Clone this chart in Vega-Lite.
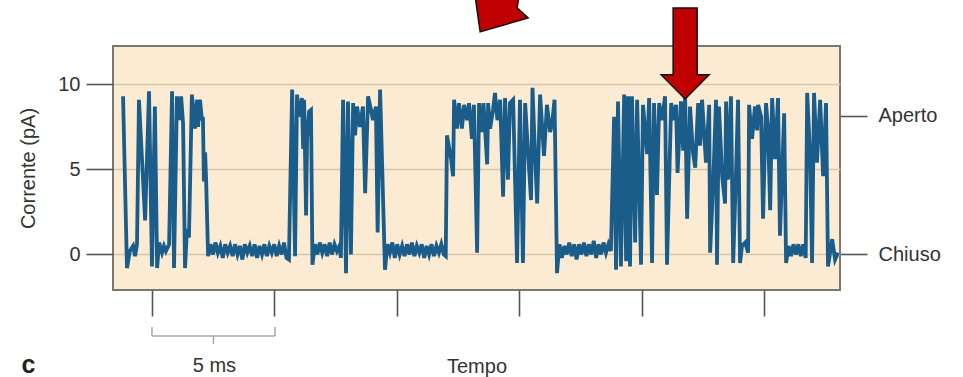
{
  "$schema": "https://vega.github.io/schema/vega-lite/v6.json",
  "autosize": "none",
  "width": 727,
  "height": 244,
  "padding": {"left": 113, "top": 46, "right": 123, "bottom": 87},
  "background": "white",
  "config": {
    "font": "Liberation Sans",
    "view": {"fill": "#FCEBD3", "stroke": "#7a7670", "strokeWidth": 2},
    "axis": {"labelFont": "Liberation Sans", "titleFont": "Liberation Sans", "labelColor": "#333", "titleColor": "#333", "tickColor": "#555", "tickWidth": 1.6, "labelFontSize": 20, "titleFontSize": 20, "titleFontWeight": "normal", "domain": false}
  },
  "datasets": {
    "trace": [
      {"t":0.41,"v":9.3},{"t":0.57,"v":-0.8},{"t":0.69,"v":0.2},{"t":0.82,"v":0.5},{"t":0.90,"v":-0.1},{"t":0.98,"v":0.6},
      {"t":1.06,"v":9.1},{"t":1.31,"v":2.0},{"t":1.47,"v":9.6},{"t":1.59,"v":-0.7},{"t":1.71,"v":8.7},{"t":1.80,"v":-0.8},
      {"t":1.88,"v":0.7},{"t":2.00,"v":0.1},{"t":2.08,"v":0.5},{"t":2.16,"v":0.2},{"t":2.29,"v":0.6},{"t":2.41,"v":9.6},
      {"t":2.49,"v":-0.8},{"t":2.61,"v":9.3},{"t":2.69,"v":7.9},{"t":2.78,"v":9.3},{"t":2.86,"v":7.7},{"t":2.94,"v":-0.8},
      {"t":3.02,"v":1.5},{"t":3.10,"v":1.0},{"t":3.22,"v":9.4},{"t":3.35,"v":7.4},{"t":3.43,"v":9.1},{"t":3.47,"v":7.5},
      {"t":3.55,"v":9.1},{"t":3.63,"v":7.9},{"t":3.67,"v":8.1},{"t":3.71,"v":4.3},{"t":3.76,"v":6.0},{"t":3.80,"v":4.4},
      {"t":3.88,"v":-0.1},{"t":3.98,"v":0.6},{"t":4.08,"v":0.0},{"t":4.18,"v":0.7},{"t":4.28,"v":0.1},{"t":4.38,"v":0.5},
      {"t":4.48,"v":-0.2},{"t":4.58,"v":0.6},{"t":4.68,"v":0.1},{"t":4.78,"v":0.5},{"t":4.88,"v":-0.1},{"t":4.98,"v":0.6},
      {"t":5.08,"v":0.0},{"t":5.18,"v":0.5},{"t":5.28,"v":-0.3},{"t":5.38,"v":0.6},{"t":5.48,"v":0.1},{"t":5.58,"v":0.5},
      {"t":5.68,"v":-0.1},{"t":5.78,"v":0.6},{"t":5.88,"v":-0.2},{"t":5.98,"v":0.5},{"t":6.08,"v":0.0},{"t":6.18,"v":0.6},
      {"t":6.28,"v":-0.1},{"t":6.38,"v":0.5},{"t":6.48,"v":0.1},{"t":6.58,"v":0.6},{"t":6.68,"v":-0.1},{"t":6.78,"v":0.5},
      {"t":6.88,"v":0.0},{"t":6.98,"v":0.7},{"t":7.08,"v":-0.2},{"t":7.18,"v":-0.3},
      {"t":7.31,"v":9.7},{"t":7.43,"v":-0.1},{"t":7.51,"v":9.4},{"t":7.59,"v":8.1},{"t":7.71,"v":9.2},{"t":7.76,"v":6.2},
      {"t":7.80,"v":9.1},{"t":7.88,"v":2.3},{"t":7.92,"v":6.8},{"t":8.00,"v":8.4},{"t":8.08,"v":8.5},{"t":8.14,"v":-0.6},
      {"t":8.24,"v":0.6},{"t":8.34,"v":0.0},{"t":8.44,"v":0.7},{"t":8.54,"v":0.1},{"t":8.64,"v":0.6},{"t":8.74,"v":-0.1},
      {"t":8.84,"v":0.7},{"t":8.94,"v":0.0},{"t":9.04,"v":0.6},{"t":9.14,"v":0.2},{"t":9.24,"v":0.5},{"t":9.30,"v":-0.2},
      {"t":9.39,"v":9.1},{"t":9.51,"v":-1.1},{"t":9.59,"v":9.0},{"t":9.71,"v":0.0},{"t":9.80,"v":8.9},{"t":9.88,"v":7.0},
      {"t":9.96,"v":8.7},{"t":10.08,"v":7.5},{"t":10.20,"v":8.7},{"t":10.29,"v":3.6},{"t":10.41,"v":9.3},{"t":10.53,"v":8.5},
      {"t":10.61,"v":7.9},{"t":10.73,"v":8.7},{"t":10.80,"v":1.3},{"t":10.90,"v":9.7},{"t":11.10,"v":-0.9},
      {"t":11.20,"v":0.6},{"t":11.30,"v":0.1},{"t":11.40,"v":0.7},{"t":11.50,"v":-0.2},{"t":11.60,"v":0.6},{"t":11.70,"v":0.0},
      {"t":11.80,"v":0.5},{"t":11.90,"v":-0.1},{"t":12.00,"v":0.6},{"t":12.10,"v":0.0},{"t":12.20,"v":0.7},{"t":12.30,"v":-0.1},
      {"t":12.40,"v":0.5},{"t":12.50,"v":0.1},{"t":12.60,"v":0.6},{"t":12.70,"v":-0.2},{"t":12.80,"v":0.5},{"t":12.90,"v":0.0},
      {"t":13.00,"v":0.6},{"t":13.10,"v":-0.1},{"t":13.20,"v":0.5},{"t":13.30,"v":0.1},{"t":13.40,"v":0.6},{"t":13.50,"v":0.0},
      {"t":13.58,"v":-0.1},
      {"t":13.63,"v":7.0},{"t":13.80,"v":5.6},{"t":13.88,"v":4.6},{"t":13.92,"v":9.1},{"t":14.04,"v":7.4},{"t":14.12,"v":8.9},
      {"t":14.24,"v":7.4},{"t":14.33,"v":8.8},{"t":14.45,"v":7.9},{"t":14.53,"v":8.9},{"t":14.65,"v":6.8},{"t":14.73,"v":8.8},
      {"t":14.86,"v":0.1},{"t":14.94,"v":8.9},{"t":15.06,"v":7.2},{"t":15.12,"v":8.9},{"t":15.27,"v":5.3},{"t":15.31,"v":8.9},
      {"t":15.39,"v":7.4},{"t":15.51,"v":8.5},{"t":15.59,"v":9.5},{"t":15.69,"v":7.9},{"t":15.80,"v":9.1},{"t":15.92,"v":3.4},
      {"t":16.00,"v":9.2},{"t":16.12,"v":4.4},{"t":16.20,"v":8.9},{"t":16.33,"v":9.1},{"t":16.49,"v":-0.5},{"t":16.61,"v":9.1},
      {"t":16.73,"v":-0.5},{"t":16.82,"v":8.9},{"t":16.94,"v":6.0},{"t":17.06,"v":3.2},{"t":17.12,"v":9.8},{"t":17.22,"v":6.0},
      {"t":17.31,"v":3.0},{"t":17.43,"v":9.4},{"t":17.59,"v":5.8},{"t":17.71,"v":8.8},{"t":17.84,"v":7.2},{"t":17.92,"v":7.7},
      {"t":18.02,"v":9.1},{"t":18.12,"v":-1.1},
      {"t":18.22,"v":0.6},{"t":18.32,"v":-0.2},{"t":18.42,"v":0.5},{"t":18.52,"v":0.0},{"t":18.62,"v":0.7},{"t":18.72,"v":-0.1},
      {"t":18.82,"v":0.6},{"t":18.92,"v":-0.3},{"t":19.02,"v":0.6},{"t":19.12,"v":0.0},{"t":19.22,"v":0.7},{"t":19.32,"v":-0.1},
      {"t":19.42,"v":0.6},{"t":19.52,"v":0.0},{"t":19.62,"v":0.8},{"t":19.72,"v":-0.2},{"t":19.82,"v":0.6},{"t":19.92,"v":0.0},
      {"t":20.02,"v":0.7},{"t":20.12,"v":0.1},{"t":20.22,"v":0.6},{"t":20.32,"v":0.2},
      {"t":20.45,"v":8.1},{"t":20.53,"v":-0.9},{"t":20.61,"v":9.0},{"t":20.73,"v":-0.7},{"t":20.86,"v":9.4},{"t":20.94,"v":-0.4},
      {"t":21.02,"v":9.3},{"t":21.10,"v":-0.7},{"t":21.18,"v":9.3},{"t":21.31,"v":0.7},{"t":21.39,"v":9.1},{"t":21.55,"v":-0.6},
      {"t":21.63,"v":8.8},{"t":21.80,"v":5.9},{"t":21.88,"v":9.2},{"t":22.00,"v":-0.5},{"t":22.08,"v":8.9},{"t":22.20,"v":3.5},
      {"t":22.29,"v":8.9},{"t":22.41,"v":7.9},{"t":22.53,"v":9.3},{"t":22.61,"v":-0.6},{"t":22.78,"v":8.9},{"t":22.90,"v":7.9},
      {"t":22.98,"v":8.8},{"t":23.04,"v":4.8},{"t":23.18,"v":9.0},{"t":23.27,"v":6.1},{"t":23.35,"v":9.3},{"t":23.43,"v":2.1},
      {"t":23.55,"v":8.7},{"t":23.67,"v":6.0},{"t":23.76,"v":5.1},{"t":23.88,"v":8.9},{"t":23.96,"v":6.4},{"t":24.04,"v":9.1},
      {"t":24.20,"v":5.4},{"t":24.33,"v":8.8},{"t":24.37,"v":0.1},{"t":24.49,"v":4.0},{"t":24.61,"v":9.1},{"t":24.65,"v":-0.6},
      {"t":24.73,"v":8.7},{"t":24.86,"v":4.6},{"t":24.98,"v":3.0},{"t":25.02,"v":9.0},{"t":25.10,"v":4.4},{"t":25.22,"v":9.3},
      {"t":25.31,"v":-0.5},{"t":25.43,"v":5.0},{"t":25.51,"v":9.1},{"t":25.59,"v":-0.5},{"t":25.67,"v":0.5},{"t":25.80,"v":0.7},
      {"t":25.92,"v":0.1},{"t":25.96,"v":8.8},{"t":26.08,"v":6.8},{"t":26.20,"v":8.7},{"t":26.29,"v":7.3},{"t":26.33,"v":8.8},
      {"t":26.45,"v":8.1},{"t":26.53,"v":2.1},{"t":26.65,"v":8.9},{"t":26.73,"v":7.5},{"t":26.82,"v":2.6},{"t":26.90,"v":9.2},
      {"t":27.02,"v":5.6},{"t":27.14,"v":9.2},{"t":27.22,"v":1.1},{"t":27.39,"v":8.3},{"t":27.47,"v":-0.5},
      {"t":27.57,"v":0.5},{"t":27.67,"v":-0.1},{"t":27.77,"v":0.6},{"t":27.87,"v":0.0},{"t":27.97,"v":0.6},{"t":28.07,"v":-0.1},
      {"t":28.17,"v":0.6},{"t":28.27,"v":-0.2},
      {"t":28.33,"v":9.5},{"t":28.45,"v":5.8},{"t":28.53,"v":-0.5},{"t":28.61,"v":9.5},{"t":28.73,"v":5.4},{"t":28.86,"v":9.1},
      {"t":28.98,"v":4.6},{"t":29.10,"v":8.9},{"t":29.18,"v":-0.7},{"t":29.35,"v":0.9},{"t":29.47,"v":-0.3},{"t":29.59,"v":0.1}
    ],
    "bracket": [
      {"xa":1.59,"xb":6.61,"ya":-4.79,"yb":-4.79},
      {"xa":1.59,"xb":1.59,"ya":-4.26,"yb":-4.79},
      {"xa":6.61,"xb":6.61,"ya":-4.26,"yb":-4.79},
      {"xa":4.10,"xb":4.10,"ya":-4.79,"yb":-5.26}
    ],
    "scaleLabel": [{"xl":4.14,"yl":-6.91,"txt":"5 ms"}],
    "panelLabel": [{"xl":-3.45,"yl":-7.0,"txt":"c"}],
    "arrows": [
      {"xa":23.35,"ya":11.82,"name":"down"},
      {"xa":15.80,"ya":14.03,"name":"tilted"}
    ]
  },
  "resolve": {"axis": {"x": "independent", "y": "independent"}},
  "layer": [
    {
      "data": {"name": "trace"},
      "mark": {"type": "line", "color": "#1A5D8B", "strokeWidth": 3.8},
      "encoding": {
        "x": {"field": "t", "type": "quantitative", "scale": {"domain": [0, 29.67], "nice": false, "zero": false},
              "axis": {"values": [1.58, 6.58, 11.58, 16.58, 21.58, 26.58], "labels": false, "grid": false, "tickSize": 26, "title": "Tempo", "titleY": 82, "titleBaseline": "alphabetic"}},
        "y": {"field": "v", "type": "quantitative", "scale": {"domain": [-2.09, 12.26], "nice": false, "zero": false},
              "axis": {"values": [0, 5, 10], "grid": true, "gridColor": "#D8C6A6", "gridWidth": 1.5, "tickSize": 27, "labelPadding": 6, "title": "Corrente (pA)", "titleX": -79, "titleY": 122, "titleAngle": 270, "titleAlign": "center", "titleBaseline": "alphabetic"}}
      }
    },
    {
      "data": {"name": "bracket"},
      "mark": {"type": "rule", "color": "#A8A8A8", "strokeWidth": 1.5},
      "encoding": {
        "x": {"field": "xa", "type": "quantitative", "scale": {"domain": [0, 29.67], "nice": false, "zero": false}, "axis": null},
        "x2": {"field": "xb"},
        "y": {"field": "ya", "type": "quantitative", "scale": {"domain": [-2.09, 12.26], "nice": false, "zero": false},
              "axis": {"orient": "right", "values": [0, 8.15], "labelExpr": "datum.value > 4 ? 'Aperto' : 'Chiuso'", "grid": false, "tickSize": 27, "labelPadding": 11, "title": null}},
        "y2": {"field": "yb"}
      }
    },
    {
      "data": {"name": "scaleLabel"},
      "mark": {"type": "text", "align": "center", "baseline": "alphabetic", "color": "#333", "font": "Liberation Sans", "fontSize": 20},
      "encoding": {
        "x": {"field": "xl", "type": "quantitative", "scale": {"domain": [0, 29.67], "nice": false, "zero": false}, "axis": null},
        "y": {"field": "yl", "type": "quantitative", "scale": {"domain": [-2.09, 12.26], "nice": false, "zero": false}, "axis": null},
        "text": {"field": "txt"}
      }
    },
    {
      "data": {"name": "panelLabel"},
      "mark": {"type": "text", "align": "center", "baseline": "alphabetic", "color": "#222", "font": "Liberation Sans", "fontSize": 25, "fontWeight": "bold"},
      "encoding": {
        "x": {"field": "xl", "type": "quantitative", "scale": {"domain": [0, 29.67], "nice": false, "zero": false}, "axis": null},
        "y": {"field": "yl", "type": "quantitative", "scale": {"domain": [-2.09, 12.26], "nice": false, "zero": false}, "axis": null},
        "text": {"field": "txt"}
      }
    },
    {
      "data": {"name": "arrows"},
      "transform": [{"filter": "datum.name === 'down'"}],
      "mark": {"type": "point", "filled": true, "color": "#C00000", "stroke": "#111", "strokeWidth": 1.5, "opacity": 1, "size": 8281,
               "shape": "M-0.264,-1L0.264,-1L0.264,0.47L0.527,0.47L0,1L-0.527,0.47L-0.264,0.47Z"},
      "encoding": {
        "x": {"field": "xa", "type": "quantitative", "scale": {"domain": [0, 29.67], "nice": false, "zero": false}, "axis": null},
        "y": {"field": "ya", "type": "quantitative", "scale": {"domain": [-2.09, 12.26], "nice": false, "zero": false}, "axis": null}
      }
    },
    {
      "data": {"name": "arrows"},
      "transform": [{"filter": "datum.name === 'tilted'"}],
      "mark": {"type": "point", "filled": true, "color": "#C00000", "stroke": "#111", "strokeWidth": 1.5, "opacity": 1, "size": 4096,
               "shape": "M-0.81,-0.81L-0.625,0.5L0.875,0.0625L0.53,-0.25L0.625,-0.81Z"},
      "encoding": {
        "x": {"field": "xa", "type": "quantitative", "scale": {"domain": [0, 29.67], "nice": false, "zero": false}, "axis": null},
        "y": {"field": "ya", "type": "quantitative", "scale": {"domain": [-2.09, 12.26], "nice": false, "zero": false}, "axis": null}
      }
    }
  ]
}
